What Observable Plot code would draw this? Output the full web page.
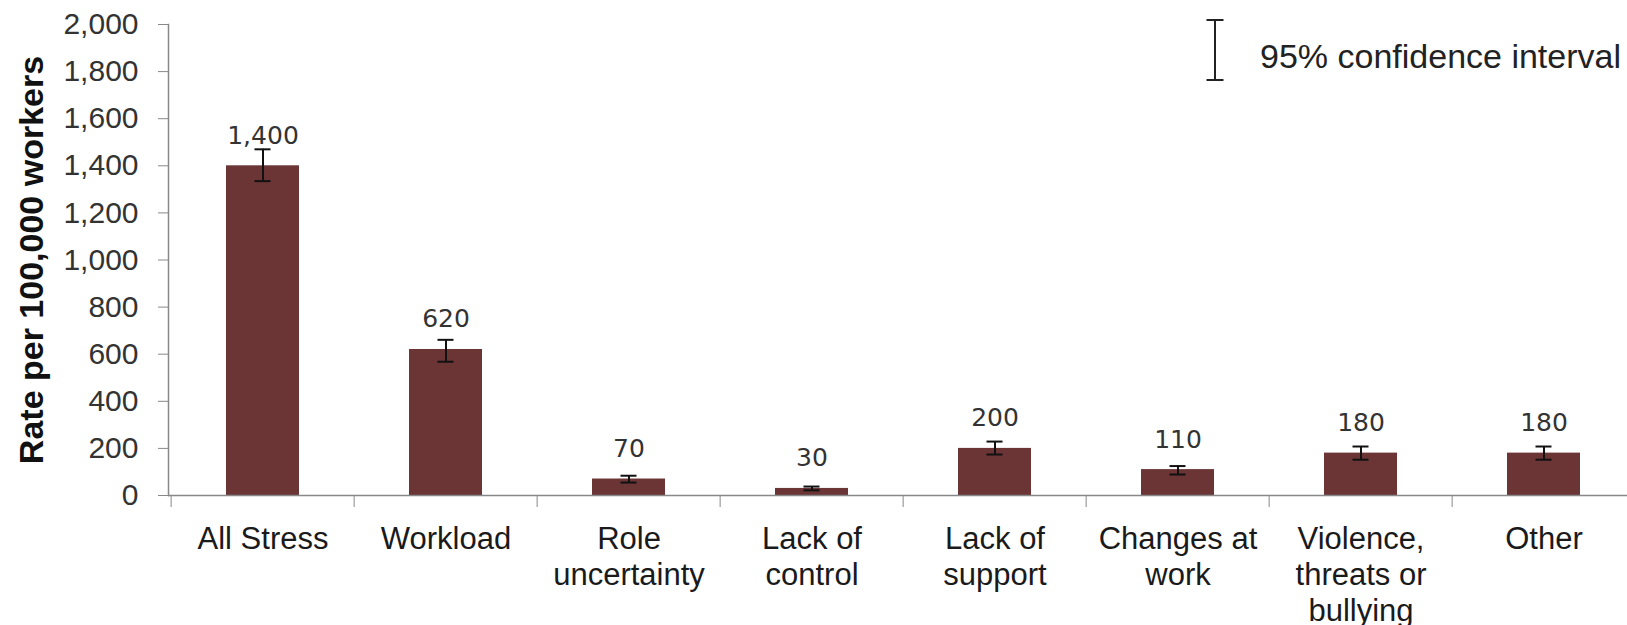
<!DOCTYPE html>
<html><head><meta charset="utf-8">
<script src="https://cdn.jsdelivr.net/npm/d3@7"></script>
<script src="https://cdn.jsdelivr.net/npm/@observablehq/plot@0.6"></script>
<style>
html,body{margin:0;padding:0;background:#fff;overflow:hidden}
#wrap{position:relative;width:1627px;height:625px}
#legend{position:absolute;left:1190px;top:0;}
</style></head><body>
<div id="wrap"><div id="chart"></div>
<svg id="legend" width="437" height="100" font-family="'Liberation Sans', Arial, sans-serif">
  <g stroke="#222" stroke-width="2">
    <line x1="25" x2="25" y1="20" y2="80"/>
    <line x1="16.5" x2="33.5" y1="20" y2="20"/>
    <line x1="16.5" x2="33.5" y1="80" y2="80"/>
  </g>
  <text x="70" y="68" font-size="34" fill="#222">95% confidence interval</text>
</svg>
</div>
<script>
const categories = ["All Stress", "Workload", "Role\nuncertainty", "Lack of\ncontrol", "Lack of\nsupport", "Changes at\nwork", "Violence,\nthreats or\nbullying", "Other"];
const rates = [1400, 620, 70, 30, 200, 110, 180, 180];
const ciLow = [1335, 568, 55, 22, 174, 89, 152, 152];
const ciHigh = [1470, 661, 84, 38, 229, 125, 208, 208];
const yTicks = [0, 200, 400, 600, 800, 1000, 1200, 1400, 1600, 1800, 2000];
const yTitle = "Rate per 100,000 workers";

const data = categories.map((c, i) => ({category: c, rate: rates[i], lo: ciLow[i], hi: ciHigh[i]}));
const fmt = d3.format(",");
const font = "'Liberation Sans', Arial, sans-serif";
const step = (1638 - 168) / 8;

const chart = Plot.plot({
  width: 1627,
  height: 625,
  marginTop: 24,
  marginBottom: 130,
  marginLeft: 168,
  marginRight: 0,
  style: {fontFamily: font, background: "#fff", color: "#333", overflow: "visible"},
  x: {domain: categories, range: [168, 1638], paddingInner: 0.6, paddingOuter: 0.3, label: null},
  y: {domain: [0, 2000], label: null},
  marks: [
    Plot.barY(data, {x: "category", y: "rate", fill: "#6b3536"}),
    Plot.ruleY([0], {stroke: "#888", strokeWidth: 1.5}),
    Plot.frame({anchor: "left", stroke: "#888", strokeWidth: 1.5}),
    Plot.axisY({ticks: yTicks, tickSize: 10, tickPadding: 20, tickFormat: fmt, fontSize: 30, stroke: "#888", fill: "#333", label: null}),
    Plot.axisX({tickSize: 12, tickFormat: () => "", dx: -step / 2, stroke: "#888", label: null}),
    Plot.axisX({tickSize: 0, tickPadding: 28, fontSize: 31, lineHeight: 1.16, fill: "#1a1a1a", label: null}),
    Plot.ruleX(data, {x: "category", y1: "lo", y2: "hi", stroke: "#111", strokeWidth: 2}),
    Plot.tickY(data, {x: "category", y: "lo", stroke: "#111", strokeWidth: 2, inset: 28.5}),
    Plot.tickY(data, {x: "category", y: "hi", stroke: "#111", strokeWidth: 2, inset: 28.5}),
    Plot.text(data, {x: "category", y: "rate", text: d => fmt(d.rate), dy: -30, fontSize: 25, fontFamily: "DejaVu Sans", fill: "#333"}),
    Plot.text([yTitle], {frameAnchor: "left", textAnchor: "middle", lineAnchor: "middle", dx: -136, rotate: -90, fontSize: 34, fontWeight: "bold", fill: "#111"})
  ]
});
document.getElementById("chart").appendChild(chart);
</script>
</body></html>
